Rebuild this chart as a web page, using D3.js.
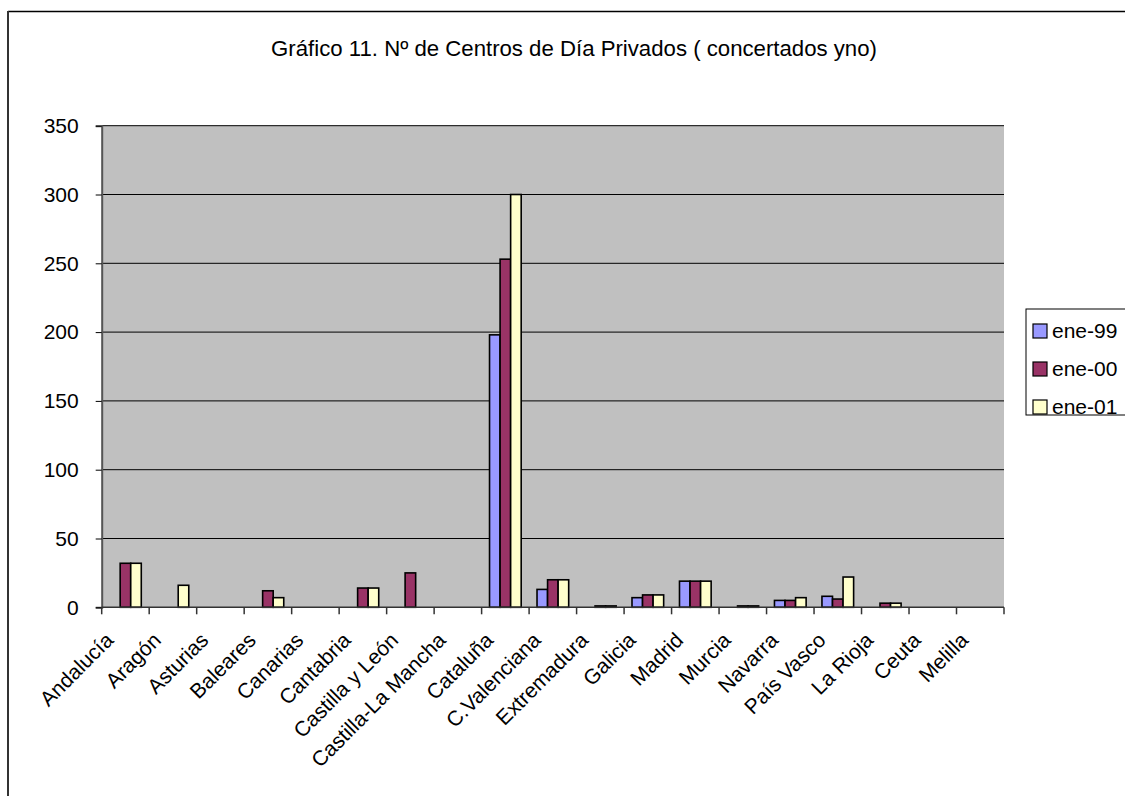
<!DOCTYPE html>
<html>
<head>
<meta charset="utf-8">
<script src="https://cdn.jsdelivr.net/npm/d3@7"></script>
<style>
  body { margin: 0; background: #fff; }
  text { font-family: "Liberation Sans", Arial, sans-serif; fill: #000; }
</style>
</head>
<body>
<svg id="chart" width="1125" height="796"></svg>
<script>
// data
var regiones = ["Andalucía", "Aragón", "Asturias", "Baleares", "Canarias", "Cantabria",
  "Castilla y León", "Castilla-La Mancha", "Cataluña", "C.Valenciana", "Extremadura",
  "Galicia", "Madrid", "Murcia", "Navarra", "País Vasco", "La Rioja", "Ceuta", "Melilla"];
var series = ["ene-99", "ene-00", "ene-01"];
var ene99 = [0, 0, 0, 0, 0, 0, 0, 0, 198, 13, 0, 7, 19, 0, 5, 8, 0, 0, 0];
var ene00 = [32, 0, 0, 12, 0, 14, 25, 0, 253, 20, 1, 9, 19, 1, 5, 6, 3, 0, 0];
var ene01 = [32, 16, 0, 7, 0, 14, 0, 0, 300, 20, 1, 9, 19, 1, 7, 22, 3, 0, 0];
var yTicks = [0, 50, 100, 150, 200, 250, 300, 350];
var colores = ["#9999FF", "#993366", "#FFFFCC"];

var values = [ene99, ene00, ene01];
var rows = regiones.map(function(r, i) {
  return { region: r, vals: series.map(function(s, j) { return { key: s, value: values[j][i] }; }) };
});

var svg = d3.select("#chart");
var fs = "21px";

// outer chart border (only left and top edges are inside the window)
svg.append("line").attr("x1", 8).attr("y1", 11.5).attr("x2", 1125).attr("y2", 11.5)
  .attr("stroke", "#000").attr("stroke-width", 1.5);
svg.append("line").attr("x1", 8).attr("y1", 11).attr("x2", 8).attr("y2", 796)
  .attr("stroke", "#333").attr("stroke-width", 2);

svg.append("text")
  .attr("x", 574).attr("y", 56)
  .attr("text-anchor", "middle")
  .style("font-size", "22.2px")
  .text("Gráfico 11. Nº de Centros de Día Privados ( concertados yno)");

var plotL = 101.7, plotR = 1004, plotT = 125.7, plotB = 607.3;

var x = d3.scaleBand().domain(regiones).range([plotL, plotR]).padding(0);
var xs = d3.scaleBand().domain(series).range([0, x.bandwidth()]).paddingInner(0).paddingOuter(0.75);
var y = d3.scaleLinear().domain([0, 350]).range([plotB, plotT]);
var color = d3.scaleOrdinal().domain(series).range(colores);

// plot area
svg.append("rect")
  .attr("x", plotL).attr("y", plotT)
  .attr("width", plotR - plotL).attr("height", plotB - plotT)
  .attr("fill", "#C0C0C0");

// gridlines
svg.append("g").selectAll("line")
  .data(yTicks.slice(1))
  .enter().append("line")
  .attr("x1", plotL).attr("x2", plotR)
  .attr("y1", function(d) { return y(d); })
  .attr("y2", function(d) { return y(d); })
  .attr("stroke", "#000").attr("stroke-width", 1);

// bars
var groups = svg.append("g").selectAll("g")
  .data(rows)
  .enter().append("g")
  .attr("transform", function(d) { return "translate(" + x(d.region) + ",0)"; });

groups.selectAll("rect")
  .data(function(d) { return d.vals.filter(function(v) { return v.value > 0; }); })
  .enter().append("rect")
  .attr("x", function(d) { return xs(d.key); })
  .attr("width", xs.bandwidth())
  .attr("y", function(d) { return y(d.value); })
  .attr("height", function(d) { return plotB - y(d.value); })
  .attr("fill", function(d) { return color(d.key); })
  .attr("stroke", "#000")
  .attr("stroke-width", 1.6);

// y axis
var yAxis = svg.append("g")
  .attr("transform", "translate(" + plotL + ",0)")
  .call(d3.axisLeft(y).tickValues(yTicks).tickSize(6).tickPadding(17));
yAxis.select(".domain").attr("stroke", "#555").attr("stroke-width", 2);
yAxis.selectAll(".tick line").attr("stroke", "#000");
yAxis.selectAll("text")
  .style("font-size", fs)
  .style("font-family", "'Liberation Sans', Arial, sans-serif")
  .attr("fill", "#000");

// x axis: ticks at band boundaries
svg.append("line")
  .attr("x1", plotL).attr("x2", plotR).attr("y1", plotB).attr("y2", plotB)
  .attr("stroke", "#333").attr("stroke-width", 1.5);
var bounds = regiones.map(function(r) { return x(r); }).concat([plotR]);
svg.append("g").selectAll("line")
  .data(bounds)
  .enter().append("line")
  .attr("x1", function(d) { return d; }).attr("x2", function(d) { return d; })
  .attr("y1", plotB).attr("y2", plotB + 7)
  .attr("stroke", "#333").attr("stroke-width", 1.5);

svg.append("g").selectAll("text")
  .data(regiones)
  .enter().append("text")
  .attr("transform", function(d) {
    return "translate(" + (x(d) + x.bandwidth() / 2 - 16) + "," + (plotB + 29) + ") rotate(-45)";
  })
  .attr("text-anchor", "end")
  .attr("dy", "0.35em")
  .style("font-size", fs)
  .text(function(d) { return d; });

// legend
var legend = svg.append("g");
legend.append("rect")
  .attr("x", 1026).attr("y", 309).attr("width", 110).attr("height", 106)
  .attr("fill", "#fff").attr("stroke", "#000").attr("stroke-width", 1);
var item = legend.selectAll("g.item")
  .data(series)
  .enter().append("g").attr("class", "item")
  .attr("transform", function(d, i) { return "translate(1033," + (331 + i * 38) + ")"; });
item.append("rect")
  .attr("x", 0).attr("y", -7).attr("width", 14).attr("height", 14)
  .attr("fill", function(d) { return color(d); })
  .attr("stroke", "#000").attr("stroke-width", 1.2);
item.append("text")
  .attr("x", 19).attr("dy", "0.35em")
  .style("font-size", fs)
  .text(function(d) { return d; });
</script>
</body>
</html>
